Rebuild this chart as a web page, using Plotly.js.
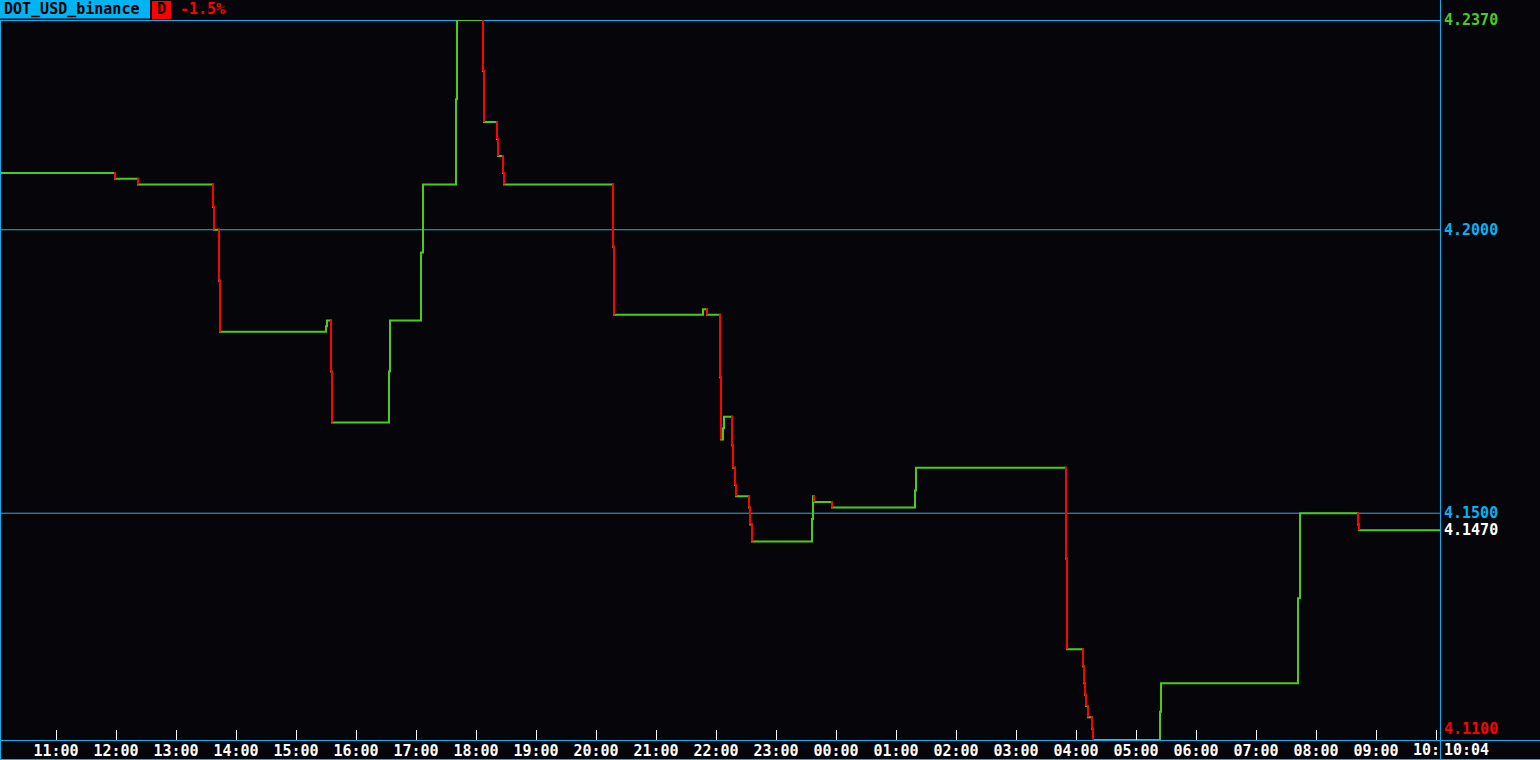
<!DOCTYPE html>
<html><head><meta charset="utf-8">
<script src="https://cdn.plot.ly/plotly-3.0.1.min.js"></script>
<style>html,body{margin:0;padding:0;background:#06060a;overflow:hidden}#chart{width:1540px;height:760px}</style>
</head><body><div id="chart"></div>
<script>
// ---- data ----
const symbol = 'DOT_USD_binance';
const periodFlag = 'D';
const changeText = '-1.5%';
const startTime = '2024-03-14 10:04';
const endTime = '2024-03-15 10:04';
const lastTimeLabel = '10:04';
// times at which the price changed, and the new price
const changeTimes = [
  '2024-03-14 10:04','2024-03-14 11:59','2024-03-14 12:22','2024-03-14 13:37','2024-03-14 13:38',
  '2024-03-14 13:43','2024-03-14 13:44','2024-03-14 15:30','2024-03-14 15:31','2024-03-14 15:35',
  '2024-03-14 15:36','2024-03-14 16:33','2024-03-14 16:34','2024-03-14 17:05','2024-03-14 17:07',
  '2024-03-14 17:40','2024-03-14 17:41','2024-03-14 18:07','2024-03-14 18:08','2024-03-14 18:21',
  '2024-03-14 18:22','2024-03-14 18:27','2024-03-14 18:28','2024-03-14 20:17','2024-03-14 20:18',
  '2024-03-14 21:47','2024-03-14 21:51','2024-03-14 22:04','2024-03-14 22:05','2024-03-14 22:07',
  '2024-03-14 22:08','2024-03-14 22:16','2024-03-14 22:17','2024-03-14 22:19','2024-03-14 22:20',
  '2024-03-14 22:33','2024-03-14 22:34','2024-03-14 22:36','2024-03-14 23:36','2024-03-14 23:37',
  '2024-03-14 23:38','2024-03-14 23:56','2024-03-15 01:19','2024-03-15 01:20','2024-03-15 03:50',
  '2024-03-15 03:51','2024-03-15 04:07','2024-03-15 04:08','2024-03-15 04:09','2024-03-15 04:10',
  '2024-03-15 04:12','2024-03-15 04:16','2024-03-15 04:17','2024-03-15 05:24','2024-03-15 05:25',
  '2024-03-15 07:42','2024-03-15 07:44','2024-03-15 08:42','2024-03-15 08:43'
];
const changePrices = [
  4.210,4.209,4.208,4.204,4.200,
  4.191,4.182,4.183,4.184,4.175,
  4.166,4.175,4.184,4.196,4.208,
  4.223,4.237,4.228,4.219,4.216,
  4.213,4.210,4.208,4.197,4.185,
  4.186,4.185,4.174,4.163,4.165,
  4.167,4.162,4.158,4.155,4.153,
  4.151,4.148,4.145,4.149,4.153,
  4.152,4.151,4.154,4.158,4.142,
  4.126,4.123,4.120,4.118,4.116,
  4.114,4.112,4.110,4.115,4.120,
  4.135,4.150,4.148,4.147
];
const hourTickTimes = [
  '2024-03-14 11:00','2024-03-14 12:00','2024-03-14 13:00','2024-03-14 14:00','2024-03-14 15:00',
  '2024-03-14 16:00','2024-03-14 17:00','2024-03-14 18:00','2024-03-14 19:00','2024-03-14 20:00',
  '2024-03-14 21:00','2024-03-14 22:00','2024-03-14 23:00','2024-03-15 00:00','2024-03-15 01:00',
  '2024-03-15 02:00','2024-03-15 03:00','2024-03-15 04:00','2024-03-15 05:00','2024-03-15 06:00',
  '2024-03-15 07:00','2024-03-15 08:00','2024-03-15 09:00','2024-03-15 10:00'
];
const hourTickLabels = ['11:00','12:00','13:00','14:00','15:00','16:00','17:00','18:00','19:00','20:00',
  '21:00','22:00','23:00','00:00','01:00','02:00','03:00','04:00','05:00','06:00','07:00','08:00','09:00','10:00'];
const gridLevels = [4.2000, 4.1500];
const priceMax = 4.2370, priceMin = 4.1100, priceLast = 4.1470;

// ---- style ----
const BG = '#06060a', CYAN = '#00b4f4', GRID = '#3aa6d8', GREEN = '#4ccc1a', RED = '#ff0000', WHITE = '#ffffff';
const FONT = 'DejaVu Sans Mono';
const FW = 'bold';
const W = 1540, H = 760, L = 0, R = 100, T = 20, B = 20;
const PW = W - L - R, PH = H - T - B;
const px = v => (v - L) / PW;
const py = v => (H - B - v) / PH;

function toMs(s) {
  const [d, hm] = s.split(' ');
  const [Y, M, D] = d.split('-').map(Number);
  const [h, m] = hm.split(':').map(Number);
  return Date.UTC(Y, M - 1, D, h, m);
}

const tx = changeTimes.map(toMs);
const gx = tx.concat([toMs(endTime)]);
const gy = changePrices.concat([changePrices[changePrices.length - 1]]);

const rx = [], ry = [];
for (let k = 1; k < tx.length; k++) {
  if (changePrices[k] < changePrices[k - 1]) {
    rx.push(tx[k] - 60000, tx[k], null);
    ry.push(changePrices[k - 1], changePrices[k], null);
  }
}

const traces = [
  {x: gx, y: gy, type: 'scatter', mode: 'lines', line: {color: GREEN, width: 2, shape: 'hv'}, hoverinfo: 'skip'},
  {x: rx, y: ry, type: 'scatter', mode: 'lines', connectgaps: false, line: {color: RED, width: 2, shape: 'hv'}, hoverinfo: 'skip'}
];

const fmt = v => v.toFixed(4);
const yTickVals = [priceMax, gridLevels[0], gridLevels[1], priceLast];
const yTickText = [
  `<span style="color:${GREEN}">${fmt(priceMax)}</span>`,
  `<span style="color:${CYAN}">${fmt(gridLevels[0])}</span>`,
  `<span style="color:${CYAN}">${fmt(gridLevels[1])}</span>`,
  `<span style="color:${WHITE}">${fmt(priceLast)}</span>`
];
// the last hour label is clipped by the price panel: show it cut, as a separate text
const nT = hourTickLabels.length;
const xTickText = hourTickLabels.map((s, i) => i === nT - 1 ? '' : s);
const clippedLabel = hourTickLabels[nT - 1].slice(0, 3);

const shapes = [];
gridLevels.forEach(g => shapes.push({type: 'line', xref: 'paper', yref: 'y', x0: 0, x1: 1, y0: g, y1: g, line: {color: GRID, width: 1}, layer: 'below'}));
// frame lines
shapes.push({type: 'line', xref: 'paper', yref: 'paper', x0: px(0), x1: px(1440), y0: py(20.5), y1: py(20.5), line: {color: CYAN, width: 1}, layer: 'below'});
shapes.push({type: 'line', xref: 'paper', yref: 'paper', x0: px(1440.5), x1: px(1440.5), y0: py(0), y1: py(760), line: {color: CYAN, width: 1}, layer: 'above'});
shapes.push({type: 'line', xref: 'paper', yref: 'paper', x0: px(0), x1: px(1540), y0: py(740.5), y1: py(740.5), line: {color: CYAN, width: 1}, layer: 'above'});
shapes.push({type: 'line', xref: 'paper', yref: 'paper', x0: px(0.5), x1: px(0.5), y0: py(20), y1: py(760), line: {color: CYAN, width: 1}, layer: 'above'});
shapes.push({type: 'line', xref: 'paper', yref: 'paper', x0: px(0), x1: px(1540), y0: py(759.5), y1: py(759.5), line: {color: CYAN, width: 1}, layer: 'above'});
// title boxes
shapes.push({type: 'rect', xref: 'paper', yref: 'paper', x0: px(0), x1: px(150), y0: py(18.5), y1: py(0), line: {width: 0}, fillcolor: CYAN, layer: 'above'});
shapes.push({type: 'rect', xref: 'paper', yref: 'paper', x0: px(152), x1: px(171), y0: py(19.5), y1: py(1), line: {width: 0}, fillcolor: RED, layer: 'above'});

const af = (c) => ({family: FONT, size: 15, color: c, weight: FW});
const annotations = [
  {xref: 'paper', yref: 'paper', x: px(2), y: py(9.5), xanchor: 'left', yanchor: 'middle', showarrow: false, text: symbol, font: af('#000000')},
  {xref: 'paper', yref: 'paper', x: px(161.5), y: py(9.5), xanchor: 'center', yanchor: 'middle', showarrow: false, text: periodFlag, font: af('#000000')},
  {xref: 'paper', yref: 'paper', x: px(178), y: py(9.5), xanchor: 'left', yanchor: 'middle', showarrow: false, text: changeText, font: af(RED)},
  {xref: 'paper', yref: 'y', x: 1, y: priceMin, xanchor: 'left', yanchor: 'bottom', xshift: 2, yshift: 0, showarrow: false, text: fmt(priceMin), font: af(RED)},
  {xref: 'paper', yref: 'paper', x: px(1442), y: py(750), xanchor: 'left', yanchor: 'middle', showarrow: false, text: lastTimeLabel, font: af(WHITE)},
  {xref: 'paper', yref: 'paper', x: px(1411), y: py(750), xanchor: 'left', yanchor: 'middle', showarrow: false, text: clippedLabel, font: af(WHITE)}
];

const layout = {
  width: W, height: H,
  margin: {l: L, r: R, t: T, b: B, pad: 0},
  paper_bgcolor: BG, plot_bgcolor: BG,
  showlegend: false,
  xaxis: {
    type: 'date', range: [toMs(startTime), toMs(endTime)],
    tickvals: hourTickTimes.map(toMs), ticktext: xTickText,
    ticks: 'inside', ticklen: 10, tickwidth: 1, tickcolor: WHITE,
    showgrid: false, zeroline: false, showline: false,
    tickfont: {family: FONT, size: 15, color: WHITE, weight: FW}, fixedrange: true
  },
  yaxis: {
    side: 'right', range: [priceMin, priceMax],
    tickvals: yTickVals, ticktext: yTickText,
    ticks: '', showgrid: false, zeroline: false, showline: false,
    ticklabelstandoff: 3,
    tickfont: {family: FONT, size: 15, color: CYAN, weight: FW}, fixedrange: true
  },
  shapes: shapes,
  annotations: annotations
};

Plotly.newPlot('chart', traces, layout, {displayModeBar: false, staticPlot: true});
</script></body></html>
